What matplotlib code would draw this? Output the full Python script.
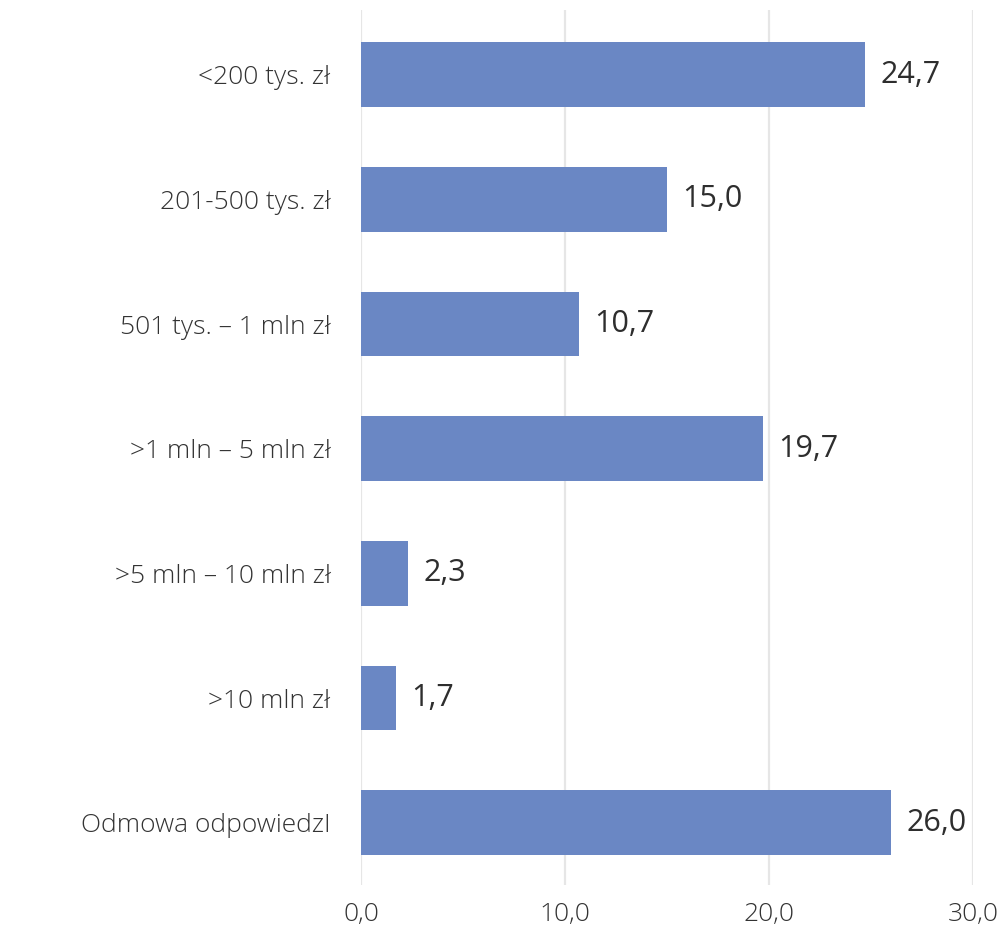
import matplotlib
matplotlib.use("Agg")
import matplotlib.pyplot as plt
from matplotlib.ticker import FuncFormatter

kategorie = [
    "<200 tys. zł",
    "201-500 tys. zł",
    "501 tys. – 1 mln zł",
    ">1 mln – 5 mln zł",
    ">5 mln – 10 mln zł",
    ">10 mln zł",
    "Odmowa odpowiedzI",
]
wartosci = [24.7, 15.0, 10.7, 19.7, 2.3, 1.7, 26.0]
ticki = [0, 10, 20, 30]

plt.rcParams["font.family"] = ["Open Sans", "DejaVu Sans"]

fig = plt.figure(figsize=(10.07, 9.34), dpi=100)
ax = fig.add_axes([0.3585, 0.0525, 0.6077, 0.9368])

y = range(len(kategorie))
ax.barh(y, wartosci, height=0.52, color="#6a87c4", zorder=3)

# etykiety z wartościami obok słupków
for i, v in enumerate(wartosci):
    ax.text(v + 0.75, i, f"{v:.1f}".replace(".", ","), va="center", ha="left",
            fontsize=22, color="#2e2e2e", fontweight="medium")

ax.set_xlim(0, 30)
ax.set_ylim(6.5, -0.52)
ax.set_xticks(ticki)
ax.xaxis.set_major_formatter(FuncFormatter(lambda x, _: f"{x:.1f}".replace(".", ",")))
ax.set_yticks(list(y))
ax.set_yticklabels(kategorie)
ax.tick_params(axis="both", length=0, labelsize=19, labelcolor="#333333")
ax.tick_params(axis="y", pad=22)
ax.tick_params(axis="x", pad=12)
for lab in ax.get_xticklabels() + ax.get_yticklabels():
    lab.set_fontweight("light")

ax.grid(axis="x", color="#e6e6e6", linewidth=1.6, zorder=0)
for s in ax.spines.values():
    s.set_visible(False)

fig.savefig("out.png", dpi=100)
